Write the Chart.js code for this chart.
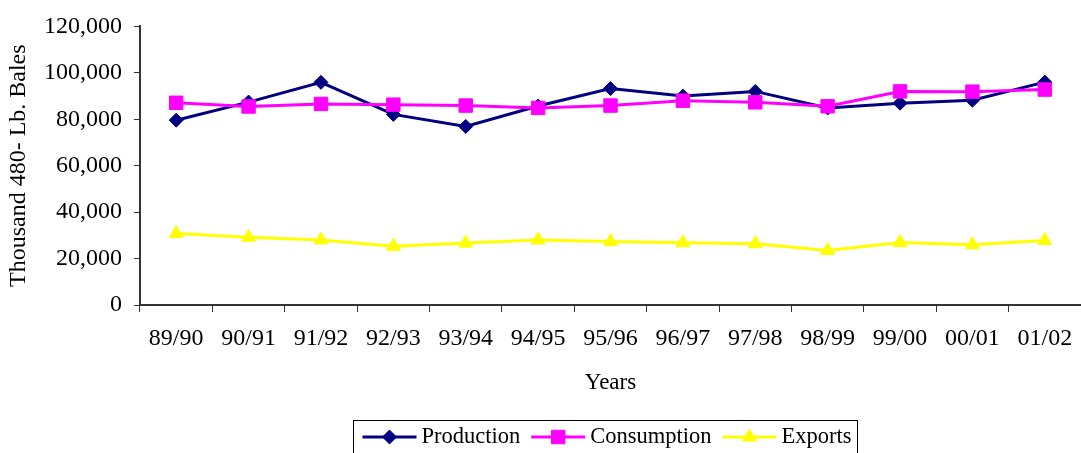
<!DOCTYPE html>
<html>
<head>
<meta charset="utf-8">
<script src="https://cdn.jsdelivr.net/npm/chart.js@4/dist/chart.umd.min.js"></script>
<style>
  html, body { margin: 0; padding: 0; background: #fff; }
  #chart { display: block; }
</style>
</head>
<body>
<canvas id="chart" width="1081" height="453"></canvas>
<script>
const years = ['89/90', '90/91', '91/92', '92/93', '93/94', '94/95', '95/96', '96/97', '97/98', '98/99', '99/00', '00/01', '01/02'];
const production = [79600, 87400, 95900, 82100, 76900, 85700, 93200, 90000, 92000, 84900, 86900, 88200, 96000];
const consumption = [87100, 85500, 86600, 86300, 85900, 84900, 85900, 88000, 87300, 85600, 92000, 91900, 92800];
const exportsData = [30800, 29200, 28000, 25300, 26700, 28000, 27300, 26800, 26400, 23500, 26900, 25900, 27800];
const yTicks = [0, 20000, 40000, 60000, 80000, 100000, 120000];

const FONT = 'Liberation Serif, Times New Roman, serif';

// legend drawn by hand: line + marker + label, boxed, under the axis title
const boxLegend = {
  id: 'boxLegend',
  afterDraw(chart) {
    const ctx = chart.ctx;
    const items = chart.data.datasets;
    ctx.save();
    ctx.font = `22.5px ${FONT}`;
    const lineLen = 54, gapText = 5, gapItem = 11;
    let total = 0;
    items.forEach((d, i) => {
      total += lineLen + gapText + ctx.measureText(d.label).width;
      if (i < items.length - 1) total += gapItem;
    });
    const boxL = 353.5;
    const boxT = 420.5;
    const boxW = total + 9 + 6;
    ctx.strokeStyle = '#000';
    ctx.lineWidth = 1;
    ctx.strokeRect(boxL, boxT, boxW, 50);
    const midY = 437;
    let x = boxL + 9;
    items.forEach(d => {
      ctx.strokeStyle = d.borderColor;
      ctx.lineWidth = 3;
      ctx.beginPath();
      ctx.moveTo(x, midY);
      ctx.lineTo(x + lineLen, midY);
      ctx.stroke();
      ctx.fillStyle = d.pointBackgroundColor;
      ctx.strokeStyle = d.pointBorderColor;
      ctx.lineWidth = 1;
      Chart.helpers.drawPoint(ctx, { pointStyle: d.pointStyle, radius: d.pointRadius, borderWidth: 1, rotation: 0 }, x + lineLen / 2, midY);
      x += lineLen + gapText;
      ctx.fillStyle = '#000';
      ctx.textBaseline = 'middle';
      ctx.textAlign = 'left';
      ctx.fillText(d.label, x, midY);
      x += ctx.measureText(d.label).width + gapItem;
    });
    ctx.restore();
  }
};

new Chart(document.getElementById('chart'), {
  type: 'line',
  data: {
    labels: years,
    datasets: [
      {
        label: 'Production', data: production, order: 2,
        borderColor: '#000080', backgroundColor: '#000080',
        pointBackgroundColor: '#000080', pointBorderColor: '#000080',
        pointStyle: 'rectRot', pointRadius: 7, borderWidth: 3, pointBorderWidth: 1
      },
      {
        label: 'Consumption', data: consumption, order: 1,
        borderColor: '#FF00FF', backgroundColor: '#FF00FF',
        pointBackgroundColor: '#FF00FF', pointBorderColor: '#FF00FF',
        pointStyle: 'rect', pointRadius: 9.5, borderWidth: 3, pointBorderWidth: 1
      },
      {
        label: 'Exports', data: exportsData, order: 3,
        borderColor: '#FFFF00', backgroundColor: '#FFFF00',
        pointBackgroundColor: '#FFFF00', pointBorderColor: '#FFFF00',
        pointStyle: 'triangle', pointRadius: 8, borderWidth: 3, pointBorderWidth: 1
      }
    ]
  },
  options: {
    responsive: false,
    animation: false,
    layout: { autoPadding: false, padding: { top: 20, right: 0, bottom: 48, left: 0 } },
    plugins: { legend: { display: false }, tooltip: { enabled: false } },
    scales: {
      x: {
        offset: true,
        grid: { offset: true, drawOnChartArea: false, tickLength: 7, tickColor: '#333', tickWidth: 1 },
        border: { color: '#333', width: 2 },
        ticks: { color: '#000', font: { family: FONT, size: 24 }, padding: 12, maxRotation: 0, autoSkip: false },
        title: { display: true, text: 'Years', color: '#000', font: { family: FONT, size: 23 }, padding: { top: 0, bottom: 8 } },
        afterFit(scale) { scale.height = 100; scale.paddingLeft = 0; scale.paddingRight = 0; }
      },
      y: {
        min: 0, max: 120000,
        afterBuildTicks(scale) { scale.ticks = yTicks.map(v => ({ value: v })); },
        grid: { drawOnChartArea: false, tickLength: 6, tickColor: '#333', tickWidth: 1 },
        border: { color: '#333', width: 2 },
        ticks: { color: '#000', font: { family: FONT, size: 24 }, padding: 12, callback: v => v.toLocaleString('en-US') },
        title: { display: true, text: 'Thousand 480- Lb. Bales', color: '#000', font: { family: FONT, size: 24 }, padding: { top: 4, bottom: 0 } },
        afterFit(scale) { scale.width = 140; }
      }
    }
  },
  plugins: [boxLegend]
});
</script>
</body>
</html>
